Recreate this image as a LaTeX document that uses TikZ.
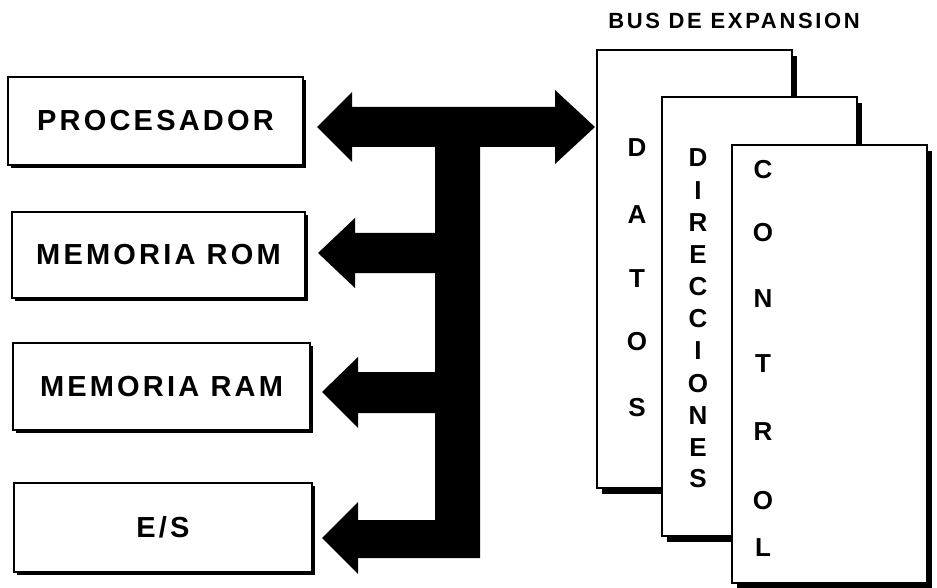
\documentclass[tikz,border=0pt]{standalone}
\usepackage{fontspec}
\setmainfont{Liberation Sans}
\newfontfamily\boxfont[LetterSpace=11]{Liberation Sans Bold}
\newfontfamily\titlefont[LetterSpace=12]{Liberation Sans Bold}
\newfontfamily\letfont{Liberation Sans Bold}
\usetikzlibrary{shadows}
\begin{document}
\begin{tikzpicture}[x=1pt,y=-1pt,
  leftbox/.style={draw, line width=2pt, fill=white, inner sep=0pt,
    font=\boxfont\fontsize{29}{31}\selectfont,
    drop shadow={shadow xshift=3pt, shadow yshift=-3pt, opacity=1, fill=black}},
  busbox/.style={draw, line width=2pt, fill=white, inner sep=0pt,
    minimum width=195pt, minimum height=438pt,
    drop shadow={shadow xshift=5pt, shadow yshift=-6pt, opacity=1, fill=black}},
  letter/.style={inner sep=0pt, font=\letfont\fontsize{26}{26}\selectfont},
  title/.style={inner sep=0pt, font=\titlefont\fontsize{22}{24}\selectfont}]
\useasboundingbox (0,0) rectangle (937,588);
\fill[white] (0,0) rectangle (937,588);

% left boxes
\node[leftbox, minimum width=295pt, minimum height=88pt] (proc) at (155.5,121) {PROCESADOR};
\node[leftbox, minimum width=293pt, minimum height=86pt] (rom) at (158.5,255) {MEMORIA ROM};
\node[leftbox, minimum width=297pt, minimum height=87pt] (ram) at (161.5,386.5) {MEMORIA RAM};
\node[leftbox, minimum width=298pt, minimum height=89pt] (es) at (163,527.5) {E/S};

% bus arrows
\fill[black] (317,127) -- (352,92) -- (352,107) -- (555,107) -- (555,90) -- (595,127)
  -- (555,164) -- (555,147) -- (480,147) -- (480,558) -- (358,558) -- (358,574)
  -- (322,538) -- (358,502) -- (358,520) -- (435,520) -- (435,413) -- (358,413)
  -- (358,428) -- (322,392) -- (358,357) -- (358,372) -- (435,372) -- (435,273)
  -- (355,273) -- (355,288) -- (318,253) -- (355,218) -- (355,233) -- (435,233)
  -- (435,147) -- (352,147) -- (352,162) -- cycle;

% expansion bus
\node[title] (bustitle) at (734,21) {BUS DE EXPANSION};
\node[busbox] (datos) at (694.5,269) {};
\node[busbox] (dir) at (759.5,316.5) {};
\node[busbox] (ctrl) at (829.5,364) {};

\foreach \ch/\yy [count=\i] in {D/148,A/215,T/279,O/342,S/408}
  \node[letter] (da\i) at (637,\yy) {\ch};
\foreach \ch/\yy [count=\i] in {D/158,I/191,R/223,E/255,C/287,C/319,I/351,O/384,N/416,E/448,S/479}
  \node[letter] (di\i) at (698,\yy) {\ch};
\foreach \ch/\yy [count=\i] in {C/170,O/233,N/299,T/364,R/432,O/501,L/548}
  \node[letter] (co\i) at (763,\yy) {\ch};
\end{tikzpicture}
\end{document}
